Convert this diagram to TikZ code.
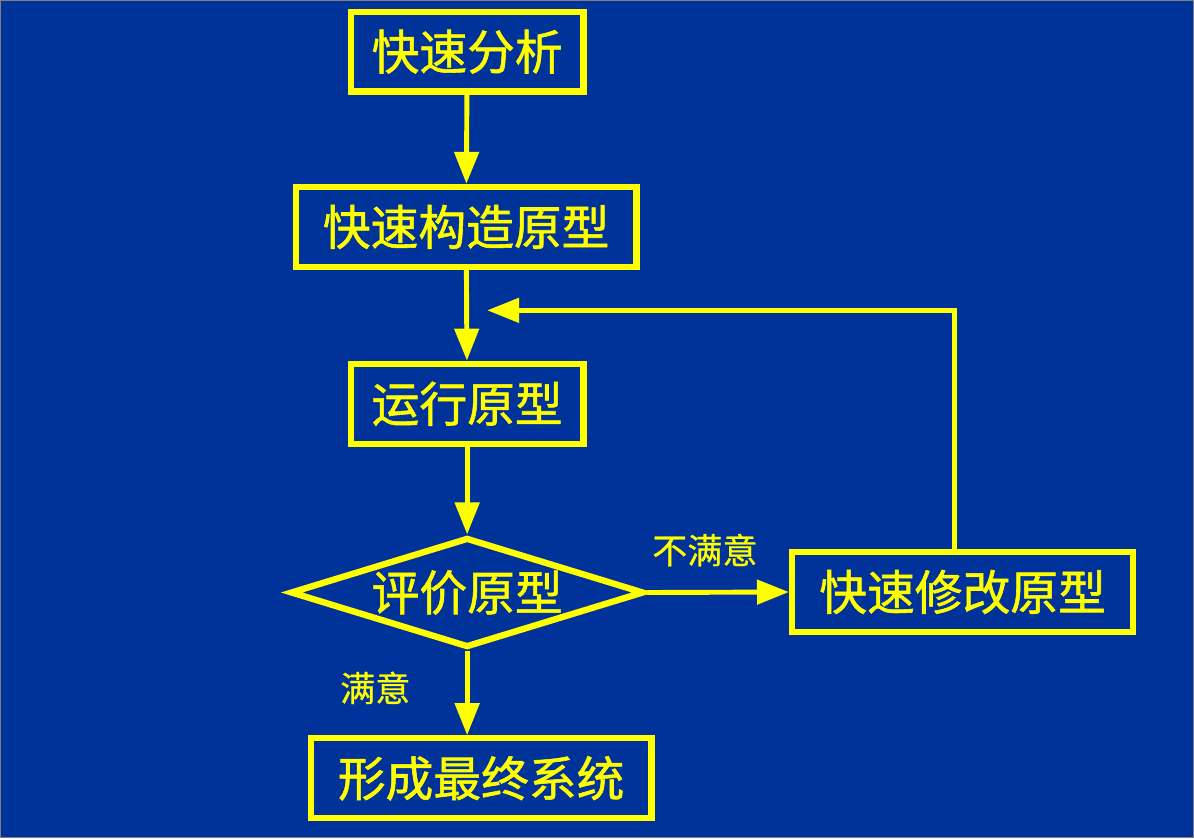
\documentclass[tikz,border=0pt]{standalone}
\usepackage{xcolor}
\usepackage{fontspec}
\usepackage{tikz}
\usetikzlibrary{shapes.geometric,arrows.meta}
\newfontfamily\cjk{Noto Sans CJK SC}
\newfontfamily\cjkbold[FakeBold=1.2]{Noto Sans CJK SC}
\newfontfamily\cjknote[FakeBold=0.6]{Noto Sans CJK SC}
\definecolor{bgblue}{HTML}{003399}
\definecolor{ylw}{HTML}{FFFF00}

\begin{document}
\begin{tikzpicture}[x=0.025cm,y=-0.025cm,
    stepbox/.style={draw=ylw,line width=4.5pt,rectangle,minimum height=2cm,
      inner sep=0pt,text=ylw,font=\cjkbold\fontsize{34}{40}\selectfont},
    judge/.style={stepbox,diamond,aspect=3.2,minimum width=8.85cm,minimum height=2.75cm},
    flow/.style={draw=ylw,line width=3.5pt,-{Triangle[length=0.8cm,width=0.6cm]}},
    note/.style={text=ylw,font=\cjknote\fontsize{25}{30}\selectfont}]
  \fill[bgblue,draw=gray,line width=1pt] (0,0) rectangle (1194,838);
  \useasboundingbox (0,0) rectangle (1194,838);
  \node[stepbox,minimum width=5.83cm] (analyse) at (467,51)    {快速分析};
  \node[stepbox,minimum width=8.53cm] (build)   at (466,226.5) {快速构造原型};
  \node[stepbox,minimum width=5.83cm] (run)     at (467,403.5) {运行原型};
  \node[judge]                        (eval)    at (467,592.5) {评价原型};
  \node[stepbox,minimum width=8.53cm] (fix)     at (963,592)   {快速修改原型};
  \node[stepbox,minimum width=8.53cm] (final)   at (481,778.5) {形成最终系统};
  \coordinate (up)   at (955,310);
  \coordinate (back) at (487,310);
  \draw[flow] (analyse) -- (build);
  \draw[flow] (build) -- (run);
  \draw[flow] (run) -- (eval);
  \draw[flow] (eval.south) -- (eval.south |- final.north);
  \draw[flow] (eval.east) -- (fix.west);
  \draw[flow] (fix.north -| up) -- (up) -- (back);
  \node[note] (no)  at (705,550) {不满意};
  \node[note] (yes) at (375,688) {满意};
\end{tikzpicture}
\end{document}
